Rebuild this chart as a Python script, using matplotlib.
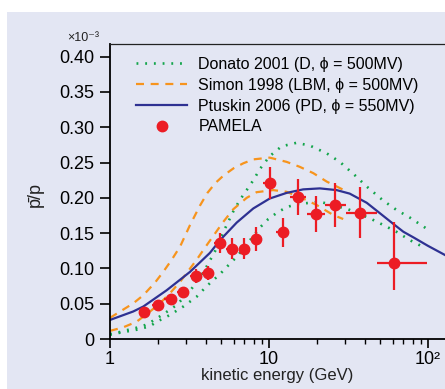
import matplotlib
matplotlib.use("Agg")
import matplotlib.pyplot as plt
from matplotlib.lines import Line2D
from matplotlib.legend_handler import HandlerLine2D
from matplotlib.patches import Rectangle

plt.rcParams['font.family'] = ['Liberation Sans', 'DejaVu Sans']

### 데이터 (값은 x10^-3 단위)

# PAMELA 측정값
pam_e = [1.64, 2.0, 2.42, 2.88, 3.49, 4.11, 4.92, 5.88, 7.0, 8.32, 10.1, 12.2, 15.3, 19.7, 26.0, 37.4, 61.0]
pam_v = [0.038, 0.048, 0.057, 0.067, 0.089, 0.093, 0.136, 0.128, 0.128, 0.141, 0.221, 0.151, 0.201, 0.177, 0.190, 0.179, 0.108]
pam_err_lo = [0.004, 0.005, 0.005, 0.006, 0.010, 0.010, 0.014, 0.015, 0.015, 0.017, 0.023, 0.020, 0.026, 0.026, 0.031, 0.036, 0.039]
pam_err_hi = [0.004, 0.005, 0.005, 0.006, 0.010, 0.010, 0.014, 0.015, 0.015, 0.017, 0.023, 0.020, 0.026, 0.026, 0.031, 0.036, 0.058]
pam_e_lo = [1.55, 1.85, 2.2, 2.65, 3.2, 3.8, 4.5, 5.4, 6.45, 7.7, 9.2, 11.1, 13.6, 17.4, 22.5, 30.7, 47.5]
pam_e_hi = [1.75, 2.15, 2.6, 3.1, 3.75, 4.4, 5.4, 6.4, 7.6, 9.1, 11.1, 13.4, 17.2, 22.5, 30.7, 47.5, 98.6]

# Donato 2001 (상한/하한)
donato_hi_e = [1.0, 1.16, 1.3, 1.6, 1.78, 2.16, 2.62, 3.18, 3.68, 4.06, 4.57, 5.2, 5.97, 6.56, 7.24, 7.97, 8.78, 10.1, 12.0, 14.9, 18.1, 23.1, 27.9, 34.7, 41.2, 52.4, 63.3, 77.0, 98.6]
donato_hi_v = [0.007, 0.010, 0.013, 0.018, 0.023, 0.035, 0.048, 0.068, 0.087, 0.103, 0.124, 0.153, 0.181, 0.197, 0.211, 0.225, 0.241, 0.259, 0.273, 0.278, 0.274, 0.263, 0.251, 0.232, 0.216, 0.196, 0.183, 0.172, 0.156]
donato_lo_e = [1.0, 1.16, 1.3, 1.46, 1.78, 1.97, 2.38, 2.89, 3.51, 4.06, 4.92, 5.42, 6.3, 7.24, 8.78, 9.9, 11.4, 13.0, 14.9, 20.9, 31.3, 43.1, 52.4, 63.3, 77.0, 95.8]
donato_lo_v = [0.006, 0.009, 0.011, 0.013, 0.018, 0.0245, 0.034, 0.046, 0.060, 0.075, 0.092, 0.102, 0.117, 0.134, 0.158, 0.170, 0.180, 0.187, 0.191, 0.1945, 0.184, 0.171, 0.1615, 0.152, 0.140, 0.129]

# Simon 1998 (상한/하한)
simon_hi_e = [1.0, 1.4, 1.62, 1.92, 2.16, 2.44, 2.76, 3.18, 3.68, 4.1, 4.6, 5.2, 6.0, 6.9, 7.97, 10.1, 12.9, 15.6, 19.0, 23.1, 29.0]
simon_hi_v = [0.030, 0.0505, 0.062, 0.080, 0.095, 0.112, 0.131, 0.161, 0.189, 0.207, 0.221, 0.232, 0.242, 0.249, 0.2545, 0.257, 0.251, 0.244, 0.235, 0.223, 0.212]
simon_lo_e = [1.0, 1.21, 1.47, 1.78, 2.06, 2.38, 2.76, 3.5, 4.06, 5.16, 5.97, 7.24, 8.35, 10.6, 12.9, 16.4, 19.9, 25.4, 29.3]
simon_lo_v = [0.0115, 0.0165, 0.0245, 0.0387, 0.0505, 0.0647, 0.081, 0.112, 0.133, 0.166, 0.184, 0.200, 0.208, 0.211, 0.2086, 0.199, 0.190, 0.1756, 0.170]

# Ptuskin 2006
ptuskin_e = [1.0, 1.4, 1.62, 2.27, 2.76, 3.18, 4.25, 4.92, 6.27, 7.97, 10.1, 12.9, 16.4, 20.9, 26.6, 32.2, 41.2, 50.0, 60.6, 70.0, 81.0, 100.0, 128.0]
ptuskin_v = [0.027, 0.039, 0.046, 0.069, 0.084, 0.095, 0.122, 0.140, 0.165, 0.185, 0.199, 0.207, 0.212, 0.2134, 0.211, 0.206, 0.193, 0.178, 0.163, 0.152, 0.144, 0.132, 0.119]

y_ticks = [0, 0.05, 0.10, 0.15, 0.20, 0.25, 0.30, 0.35, 0.40]
y_labels = ["0", "0.05", "0.10", "0.15", "0.20", "0.25", "0.30", "0.35", "0.40"]
x_ticks = [1, 10, 100]
x_labels = ["1", "10", "10²"]

c_green = "#13a54b"
c_orange = "#f7941d"
c_blue = "#2e3192"
c_red = "#ec1c24"
bg = "#e3e6f3"


class RightDot(HandlerLine2D):
    # 범례의 점을 핸들 오른쪽 끝에 표시
    def get_xdata(self, legend, xdescent, ydescent, width, height, fontsize):
        xd, _ = super().get_xdata(legend, xdescent, ydescent, width, height, fontsize)
        return xd, [-xdescent + 0.92 * width]


fig = plt.figure(figsize=(4.45, 3.89), dpi=100)
fig.patch.set_facecolor("white")
fig.patches.append(Rectangle((7 / 445, 0), 1, (389 - 12) / 389, transform=fig.transFigure,
                             facecolor=bg, edgecolor="none", zorder=-10))

ax = fig.add_axes([110 / 445, 1 - 339 / 389, 1 - 110 / 445, (339 - 44) / 389])
ax.set_facecolor("none")
ax.set_xscale("log")

dots = (0, (0.7, 2.6))
dashes = (0, (3.6, 3.0))
l1, = ax.plot(donato_hi_e, donato_hi_v, color=c_green, lw=1.9, ls=dots)
ax.plot(donato_lo_e, donato_lo_v, color=c_green, lw=1.9, ls=dots)
l2, = ax.plot(simon_hi_e, simon_hi_v, color=c_orange, lw=1.6, ls=dashes)
ax.plot(simon_lo_e, simon_lo_v, color=c_orange, lw=1.6, ls=dashes)
l3, = ax.plot(ptuskin_e, ptuskin_v, color=c_blue, lw=1.6)

xerr = [[v - lo for v, lo in zip(pam_e, pam_e_lo)], [hi - v for v, hi in zip(pam_e, pam_e_hi)]]
ax.errorbar(pam_e, pam_v, yerr=[pam_err_lo, pam_err_hi], xerr=xerr, fmt="o", color=c_red,
            ms=7.5, elinewidth=1.6, capsize=0, zorder=5)
l4 = Line2D([], [], color=c_red, marker="o", ms=7.5, ls="none")

ax.set_xlim(1, 128)
ax.set_ylim(0, 0.418)
ax.set_yticks(y_ticks)
ax.set_yticklabels(y_labels)
ax.set_xticks(x_ticks)
ax.set_xticklabels(x_labels)
ax.tick_params(axis="y", direction="out", length=7, width=1.2, labelsize=13, pad=4)
ax.tick_params(axis="x", which="major", direction="out", length=6.5, width=1.2, labelsize=13, pad=2)
ax.tick_params(axis="x", which="minor", direction="out", length=3.6, width=1.0)
ax.xaxis.set_minor_formatter(plt.NullFormatter())

ax.spines["right"].set_visible(False)
ax.spines["left"].set_linewidth(1.3)
ax.spines["bottom"].set_linewidth(1.3)
ax.spines["top"].set_linewidth(0.9)
ax.spines["top"].set_color("#222222")

ax.set_xlabel("kinetic energy (GeV)", fontsize=12, color="#222222", labelpad=0)
fig.text(35 / 445, 1 - 195 / 389, "p\u0304/p", rotation=90, fontsize=13, ha="center", va="center", color="#222222")
fig.text(67 / 445, 1 - 38 / 389, "×10⁻³", fontsize=9, ha="left", va="center", color="#222222")

fig.legend([l1, l2, l3, l4],
           ["Donato 2001 (D, ϕ = 500MV)", "Simon 1998 (LBM, ϕ = 500MV)",
            "Ptuskin 2006 (PD, ϕ = 550MV)", "PAMELA"],
           loc="upper left", bbox_to_anchor=(136 / 445, 1 - 57 / 389), frameon=False,
           fontsize=11.5, handlelength=3.2, handletextpad=0.7, labelspacing=0.36,
           borderpad=0, borderaxespad=0,
           handler_map={l4: RightDot(numpoints=1)})

plt.savefig("out.png", dpi=100, facecolor=fig.get_facecolor())
plt.close()
